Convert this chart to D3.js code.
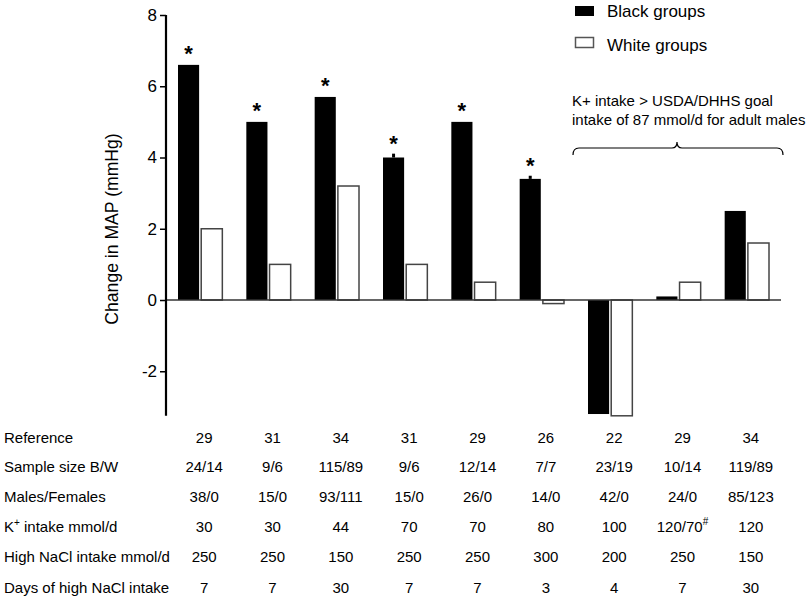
<!DOCTYPE html>
<html><head><meta charset="utf-8">
<script src="https://cdn.jsdelivr.net/npm/d3@7"></script>
<style>body{margin:0;background:#fff}svg{display:block;font-family:"Liberation Sans",Arial,sans-serif}</style>
</head><body>
<script>
const groups = ["g1","g2","g3","g4","g5","g6","g7","g8","g9"];
const blackValues = [6.6, 5.0, 5.7, 4.0, 5.0, 3.4, -3.2, 0.1, 2.5];
const whiteValues = [2.0, 1.0, 3.2, 1.0, 0.5, -0.1, -3.25, 0.5, 1.6];
const blackErrors = [0, 0, 0, 0.08, 0, 0.06, 0, 0, 0];
const significant = [true, true, true, true, true, true, false, false, false];
const yTicks = [-2, 0, 2, 4, 6, 8];
const rowLabels = ["Reference", "Sample size B/W", "Males/Females", "K+ intake mmol/d", "High NaCl intake mmol/d", "Days of high NaCl intake"];
const refRow = ["29","31","34","31","29","26","22","29","34"];
const sampleRow = ["24/14","9/6","115/89","9/6","12/14","7/7","23/19","10/14","119/89"];
const sexRow = ["38/0","15/0","93/111","15/0","26/0","14/0","42/0","24/0","85/123"];
const kRow = ["30","30","44","70","70","80","100","120/70#","120"];
const naclRow = ["250","250","150","250","250","300","200","250","150"];
const daysRow = ["7","7","30","7","7","3","4","7","30"];
const legendLabels = ["Black groups", "White groups"];
const noteLines = ["K+ intake > USDA/DHHS goal", "intake of 87 mmol/d for adult males"];

const W = 807, H = 605;
const svg = d3.select("body").append("svg").attr("width", W).attr("height", H);

const x = d3.scaleBand().domain(groups).range([166, 781]).paddingInner(0).paddingOuter(0);
const y = d3.scaleLinear().domain([-3.25, 8]).range([415.8, 15]);
const inner = d3.scaleBand().domain(["b","w"]).range([12, x.bandwidth() - 12]).paddingInner(0.09);

const blackData = groups.map((k, i) => ({k, v: blackValues[i], e: blackErrors[i], sig: significant[i]}));
const whiteData = groups.map((k, i) => ({k, v: whiteValues[i]}));
const bcx = d => x(d.k) + inner("b") + inner.bandwidth()/2;

// bars
const g = svg.append("g");
g.selectAll("rect.black").data(blackData).join("rect")
  .attr("class","black")
  .attr("x", d => x(d.k) + inner("b"))
  .attr("width", inner.bandwidth())
  .attr("y", d => y(Math.max(0,d.v)))
  .attr("height", d => Math.abs(y(d.v) - y(0)))
  .attr("fill", "#000");
g.selectAll("rect.white").data(whiteData).join("rect")
  .attr("class","white")
  .attr("x", d => x(d.k) + inner("w"))
  .attr("width", inner.bandwidth())
  .attr("y", d => y(Math.max(0,d.v)))
  .attr("height", d => Math.abs(y(d.v) - y(0)))
  .attr("fill", "#fff").attr("stroke", "#444").attr("stroke-width", 1.5);

// small error stubs
g.selectAll("line.err").data(blackData.filter(d => d.e > 0)).join("line")
  .attr("class","err")
  .attr("x1", bcx).attr("x2", bcx)
  .attr("y1", d => y(d.v))
  .attr("y2", d => y(d.v + d.e) - 1)
  .attr("stroke", "#000").attr("stroke-width", 3);

// asterisks
g.selectAll("text.ast").data(blackData.filter(d => d.sig)).join("text")
  .attr("class","ast")
  .attr("x", bcx)
  .attr("y", d => y(d.v + d.e) - 4)
  .attr("text-anchor", "middle")
  .attr("font-size", 22).attr("font-weight", "bold")
  .text("*");

// zero line
svg.append("line").attr("x1", 166).attr("x2", 781).attr("y1", y(0)).attr("y2", y(0))
  .attr("stroke", "#333").attr("stroke-width", 1.5);

// y axis
const yAxis = d3.axisLeft(y).tickValues(yTicks).tickSize(6).tickPadding(3).tickFormat(d => String(d));
const ag = svg.append("g").attr("transform", "translate(166,0)").call(yAxis);
ag.select(".domain").attr("stroke", "#000").attr("stroke-width", 2.2).attr("d", `M0,${y(8)}V${y(-3.25)}`);
ag.selectAll(".tick line").attr("stroke", "#000").attr("stroke-width", 1.5);
ag.selectAll(".tick text").attr("font-size", 17).attr("fill", "#000")
  .attr("font-family", "'Liberation Sans',Arial,sans-serif");

svg.append("text")
  .attr("transform", `translate(118,229) rotate(-90)`)
  .attr("text-anchor", "middle").attr("font-size", 17.6)
  .text("Change in MAP (mmHg)");

// legend
const lg = svg.append("g");
lg.append("rect").attr("x", 575).attr("y", 6).attr("width", 19).attr("height", 10).attr("fill", "#000");
lg.append("rect").attr("x", 575.5).attr("y", 37.5).attr("width", 18).attr("height", 10).attr("fill", "#fff").attr("stroke", "#555").attr("stroke-width", 1.5);
lg.selectAll("text").data(legendLabels).join("text")
  .attr("x", 607).attr("y", (d,i) => 17 + i*34)
  .attr("font-size", 17).text(d => d);

// annotation
svg.selectAll("text.note").data(noteLines).join("text")
  .attr("class","note")
  .attr("x", 572).attr("y", (d,i) => 106 + i*19)
  .attr("font-size", 15).text(d => d);

// brace
const bx0 = x(groups[6]) - 3, bx1 = x(groups[8]) + x.bandwidth() + 2, bmid = x(groups[7]) + x.bandwidth()/2 - 1.5;
const by = 148;
svg.append("path")
  .attr("d", `M${bx0},${by+7} Q${bx0},${by} ${bx0+6},${by} L${bmid-5},${by} Q${bmid},${by} ${bmid},${by-6} Q${bmid},${by} ${bmid+5},${by} L${bx1-6},${by} Q${bx1},${by} ${bx1},${by+7}`)
  .attr("fill", "none").attr("stroke", "#000").attr("stroke-width", 1.2);

// table
const rows = [refRow, sampleRow, sexRow, kRow, naclRow, daysRow];
const rowY = [443, 472, 502, 532, 562, 593];
const tg = svg.append("g").attr("font-size", 15);
rowLabels.forEach((lab, r) => {
  const t = tg.append("text").attr("x", 4).attr("y", rowY[r]);
  if (lab.startsWith("K+")) {
    t.append("tspan").text("K");
    t.append("tspan").attr("dy", -6).attr("font-size", 10).text("+");
    t.append("tspan").attr("dy", 6).text(lab.slice(2));
  } else t.text(lab);
  rows[r].forEach((v, i) => {
    const tx = tg.append("text").attr("x", x(groups[i]) + x.bandwidth()/2 + 4).attr("y", rowY[r]).attr("text-anchor", "middle");
    if (v.endsWith("#")) {
      tx.append("tspan").text(v.slice(0, -1));
      tx.append("tspan").attr("dy", -7).attr("font-size", 10).text("#");
    } else tx.text(v);
  });
});
</script>
</body></html>
